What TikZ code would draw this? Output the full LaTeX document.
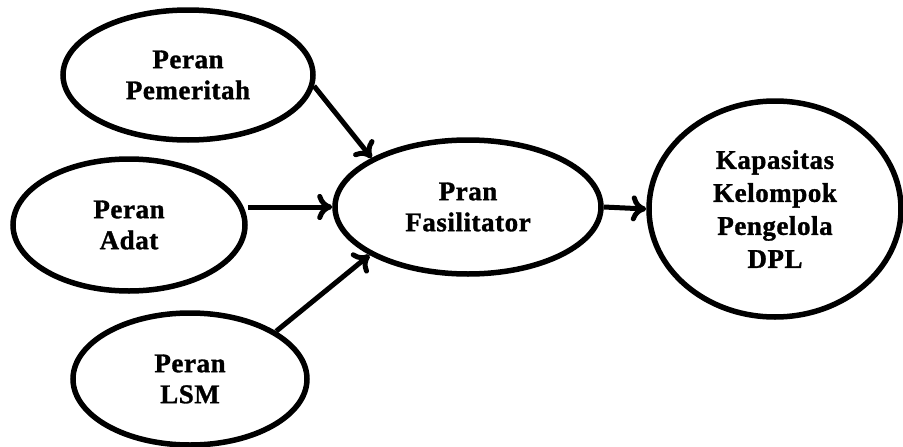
\documentclass[tikz,border=0pt]{standalone}
\usepackage{fontspec}
\setmainfont{Liberation Serif}[LetterSpace=2, BoldFeatures={FakeBold=1.2}]
\usetikzlibrary{shapes.geometric,arrows.meta}
\tikzset{
  oval/.style={ellipse, draw, line width=5.5pt, inner sep=0pt, align=center,
    font=\fontsize{27}{31}\selectfont\bfseries},
  conn/.style={line width=5pt, -{Computer Modern Rightarrow[length=15pt,width=26pt,line width=5pt]}}
}
\begin{document}
\begin{tikzpicture}[x=1pt,y=-1pt]
\useasboundingbox (0,0) rectangle (903,447);
\node[oval, minimum width=250pt, minimum height=130pt] (pem) at (188,75) {Peran\\Pemeritah};
\node[oval, minimum width=232pt, minimum height=132pt] (adat) at (129,225) {Peran\\Adat};
\node[oval, minimum width=234pt, minimum height=132pt] (lsm) at (190,379) {Peran\\LSM};
\node[oval, minimum width=266pt, minimum height=134pt] (fas) at (468,207) {Pran\\Fasilitator};
\node[oval, minimum width=252pt, minimum height=216pt, font=\fontsize{27}{33}\selectfont\bfseries] (kap) at (775,209) {Kapasitas\\Kelompok\\Pengelola\\DPL};
\draw[conn] (pem.-5) -- (fas.153);
\draw[conn] (adat.east |- fas.west) -- (fas.west);
\draw[conn] (lsm.29) -- (fas.206);
\draw[conn] (fas.east) -- (kap.west);
\end{tikzpicture}
\end{document}
